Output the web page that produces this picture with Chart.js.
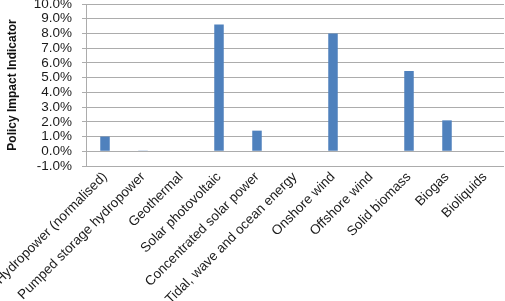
<!DOCTYPE html>
<html>
<head>
<meta charset="utf-8">
<script src="https://cdn.jsdelivr.net/npm/chart.js@4"></script>
<style>
  html, body { margin: 0; padding: 0; background: #fff; }
  #wrap { width: 505px; height: 301px; }
</style>
</head>
<body>
<div id="wrap"><canvas id="chart"></canvas></div>
<script>
// Categories and values (percent)
const technologies = [
    'Hydropower (normalised)',
    'Pumped storage hydropower',
    'Geothermal',
    'Solar photovoltaic',
    'Concentrated solar power',
    'Tidal, wave and ocean energy',
    'Onshore wind',
    'Offshore wind',
    'Solid biomass',
    'Biogas',
    'Bioliquids'
];
const impactValues = [1.0, 0.02, 0, 8.6, 1.4, 0, 8.0, 0, 5.45, 2.1, 0];

const yMin = -1;
const yMax = 10;
const yStep = 1;

const ctx = document.getElementById('chart').getContext('2d');

new Chart(ctx, {
    type: 'bar',
    data: {
        labels: technologies,
        datasets: [{
            data: impactValues,
            backgroundColor: '#4F81BD',
            borderWidth: 0,
            categoryPercentage: 1,
            barPercentage: 0.25
        }]
    },
    options: {
        responsive: true,
        maintainAspectRatio: false,
        animation: false,
        layout: { padding: { top: 4, right: 1, left: 0, bottom: 0 } },
        plugins: {
            legend: { display: false },
            tooltip: { enabled: false }
        },
        scales: {
            x: {
                // long first label runs off the left edge like in the original
                afterFit: s => { s.paddingLeft = 0; s.height = 135; },
                grid: { display: false, drawTicks: false },
                border: { display: false },
                ticks: {
                    minRotation: 45,
                    maxRotation: 45,
                    autoSkip: false,
                    padding: 3,
                    color: '#1a1a1a',
                    font: { family: 'Liberation Sans', size: 13.5 }
                }
            },
            y: {
                min: yMin,
                max: yMax,
                afterFit: s => { s.paddingTop = 0; s.width = 86; },
                grid: { color: '#acacac', tickLength: 4, lineWidth: 1 },
                border: { color: '#acacac' },
                ticks: {
                    stepSize: yStep,
                    autoSkip: false,
                    color: '#1a1a1a',
                    padding: 10,
                    font: { family: 'Liberation Sans', size: 13.5 },
                    callback: v => v.toFixed(1) + '%'
                },
                title: {
                    display: true,
                    text: 'Policy Impact Indicator',
                    color: '#111',
                    padding: { top: 5, bottom: 4 },
                    font: { family: 'Liberation Sans', size: 12, weight: 'bold' }
                }
            }
        }
    }
});
</script>
</body>
</html>
